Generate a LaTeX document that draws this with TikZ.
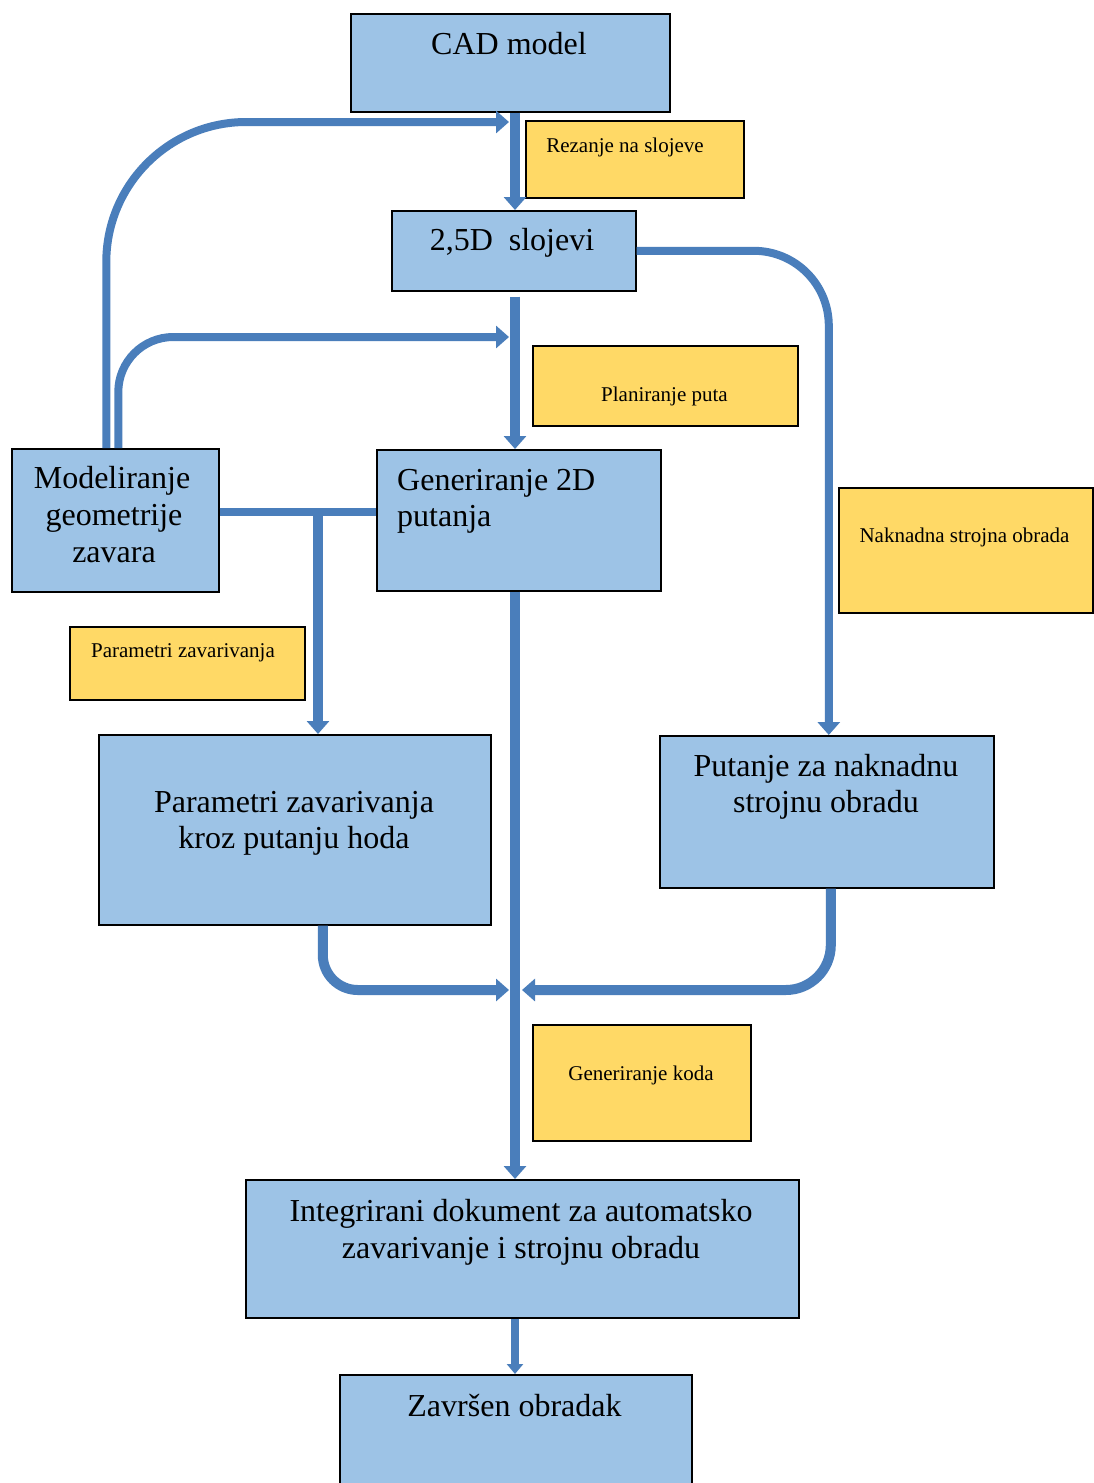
\documentclass[tikz,border=0pt]{standalone}
\usepackage{fontspec}
\setmainfont{Liberation Serif}
\usetikzlibrary{arrows.meta}
\definecolor{boxblue}{HTML}{9DC3E6}
\definecolor{labyel}{HTML}{FFD966}
\definecolor{flowblue}{HTML}{4A7EBB}
\tikzset{
  blk/.style={draw=black, line width=1.6pt, fill=boxblue, inner sep=0pt, anchor=north west},
  lab/.style={draw=black, line width=1.6pt, fill=labyel, inner sep=0pt, anchor=north west},
  big/.style={font=\fontsize{32}{37}\selectfont, inner sep=0pt, anchor=base},
  sml/.style={font=\fontsize{21}{24}\selectfont, inner sep=0pt, anchor=base},
  flow/.style={draw=flowblue, line width=10.5pt, -{Triangle[length=13pt,width=22pt]}},
  thin flow/.style={flow, line width=8pt},
  mid flow/.style={flow, line width=10pt},
  plainflow/.style={draw=flowblue, line width=8pt},
}
\begin{document}
\begin{tikzpicture}[x=1pt,y=-1pt]
\useasboundingbox (0,0) rectangle (1093,1483);
\fill[white] (0,0) rectangle (1093,1483);
% coordinates
\coordinate (mx) at (515,0);
\coordinate (j1) at (509,122);
\coordinate (j2) at (509,337);
\coordinate (b1) at (318,511);
\coordinate (j3) at (509,990);
\coordinate (j4) at (522,990);
% boxes
\node[blk, minimum width=319pt, minimum height=98pt] (cad) at (350,13) {};
\node[lab, minimum width=218pt, minimum height=77pt] (rez) at (525,120) {};
\node[blk, minimum width=244pt, minimum height=80pt] (sl) at (391,210) {};
\node[lab, minimum width=265pt, minimum height=80pt] (plan) at (532,345) {};
\node[blk, minimum width=207pt, minimum height=143pt] (mod) at (11,448) {};
\node[blk, minimum width=284pt, minimum height=141pt] (gen) at (376,449) {};
\node[lab, minimum width=254pt, minimum height=125pt] (nak) at (838,487) {};
\node[lab, minimum width=235pt, minimum height=73pt] (pz) at (69,626) {};
\node[blk, minimum width=392pt, minimum height=190pt] (par) at (98,734) {};
\node[blk, minimum width=334pt, minimum height=152pt] (put) at (659,735) {};
\node[lab, minimum width=218pt, minimum height=116pt] (gk) at (532,1024) {};
\node[blk, minimum width=553pt, minimum height=138pt] (int) at (245,1179) {};
\node[blk, minimum width=352pt, minimum height=130pt] (zav) at (339,1374) {};
% connectors
\draw[flow] (cad.south -| mx) -- (sl.north -| mx);
\draw[thin flow, rounded corners=140pt] ([xshift=-9pt]mod.north) |- (j1);
\draw[thin flow, rounded corners=55pt] ([xshift=3pt]mod.north) |- (j2);
\draw[flow] ([yshift=-5pt]sl.south -| mx) -- (gen.north -| mx);
\draw[thin flow, rounded corners=75pt] (sl.east) -| ([xshift=2pt]put.north);
\draw[plainflow] ([yshift=8pt]mod.east) -- ([yshift=8pt]gen.west);
\draw[mid flow] (b1) -- (par.north -| b1);
\draw[flow] (gen.south -| mx) -- (int.north -| mx);
\draw[mid flow, rounded corners=35pt] ([xshift=28pt]par.south) |- (j3);
\draw[mid flow, rounded corners=45pt] ([xshift=4pt]put.south) |- (j4);
\draw[draw=flowblue, line width=8pt, -{Triangle[length=10pt,width=16pt]}] (int.south -| mx) -- (zav.north -| mx);
% texts
\node[big] (cadT) at (509,54) {CAD model};
\node[sml] (rezT) at (625,152) {Rezanje na slojeve};
\node[big] (slT) at (512,250) {2,5D\ \ slojevi};
\node[sml] (planT) at (664.5,401) {Planiranje puta};
\node[big] (modT1) at (112,488) {Modeliranje};
\node[big] (modT2) at (114,525) {geometrije};
\node[big] (modT3) at (114,562) {zavara};
\node[big, anchor=base west] (genT1) at (397,490) {Generiranje 2D};
\node[big, anchor=base west] (genT2) at (397,526) {putanja};
\node[sml] (nakT) at (964.5,542) {Naknadna strojna obrada};
\node[sml] (pzT) at (183,657) {Parametri zavarivanja};
\node[big] (parT1) at (294,812) {Parametri zavarivanja};
\node[big] (parT2) at (294,848) {kroz putanju hoda};
\node[big] (putT1) at (826,776) {Putanje za naknadnu};
\node[big] (putT2) at (826,812) {strojnu obradu};
\node[sml] (gkT) at (641,1080) {Generiranje koda};
\node[big] (intT1) at (521,1221) {Integrirani dokument za automatsko};
\node[big] (intT2) at (521,1258) {zavarivanje i strojnu obradu};
\node[big] (zavT) at (514.5,1416) {Završen obradak};
\end{tikzpicture}
\end{document}
